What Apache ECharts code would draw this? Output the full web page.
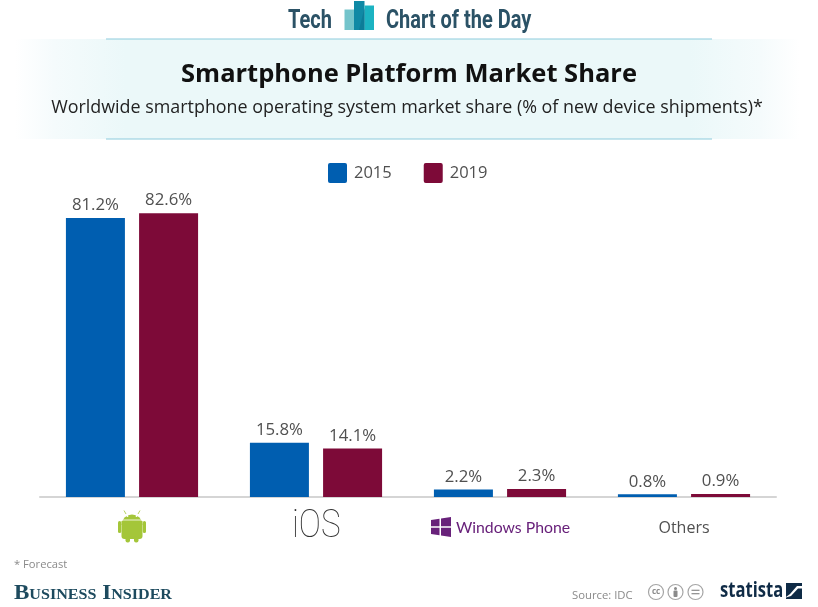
<!DOCTYPE html>
<html>
<head>
<meta charset="utf-8">
<style>
    html, body { margin: 0; padding: 0; background: #fff; }
    #chart { width: 818px; height: 607px; }
</style>
<script src="https://cdn.jsdelivr.net/npm/echarts@6/dist/echarts.min.js"></script>
</head>
<body>
<div id="chart"></div>
<script>
const categories = ['Android', 'iOS', 'Windows Phone', 'Others'];
const share2015 = [81.2, 15.8, 2.2, 0.8];
const share2019 = [82.6, 14.1, 2.3, 0.9];

const blue = '#005eb0';
const wine = '#7d0a38';
const font = '"Open Sans", sans-serif';

const chart = echarts.init(document.getElementById('chart'));

// bar series share everything but name, colour and values
const barSeries = (name, color, values) => ({
    name,
    type: 'bar',
    data: values,
    barWidth: 59,
    barGap: '24%',
    itemStyle: { color },
    label: {
        show: true,
        position: 'top',
        distance: 4,
        formatter: (p) => p.value.toFixed(1) + '%',
        fontFamily: font,
        fontSize: 16.8,
        color: '#505050',
    },
});

// header, footer and logos around the plot
const decorations = [
    {
        type: 'rect',
        shape: { x: 15, y: 39, width: 785, height: 100 },
        style: {
            fill: new echarts.graphic.LinearGradient(0, 0, 1, 0, [
                { offset: 0, color: '#ffffff' },
                { offset: 0.05, color: '#f5fbfc' },
                { offset: 0.14, color: '#ebf8f9' },
                { offset: 0.86, color: '#ebf8f9' },
                { offset: 0.95, color: '#f5fbfc' },
                { offset: 1, color: '#ffffff' },
            ]),
        },
    },
    { type: 'line', shape: { x1: 106, y1: 39, x2: 712, y2: 39 }, style: { stroke: '#8ccbdc', lineWidth: 1 } },
    { type: 'line', shape: { x1: 106, y1: 139, x2: 712, y2: 139 }, style: { stroke: '#8ccbdc', lineWidth: 1 } },

    { type: 'text', x: 288, y: 9, scaleX: 0.8, style: { text: 'Tech', font: 'bold 25px "Liberation Sans Narrow", Roboto', fill: '#2b5266' } },
    { type: 'text', x: 386, y: 9, scaleX: 0.8, style: { text: 'Chart of the Day', font: 'bold 25px "Liberation Sans Narrow", Roboto', fill: '#2b5266' } },
    { type: 'rect', shape: { x: 344.5, y: 9.5, width: 11, height: 20.5 }, style: { fill: '#74c4cb' } },
    { type: 'rect', shape: { x: 354, y: 1, width: 10.5, height: 29 }, style: { fill: '#1089a5' } },
    { type: 'rect', shape: { x: 364.5, y: 5.5, width: 9.5, height: 24.5 }, style: { fill: '#1cb3c2' } },
    { type: 'polygon', shape: { points: [[364.5, 8], [364.5, 30], [359, 30]] }, style: { fill: '#0c7c98' } },

    { type: 'text', x: 409, y: 62, style: { text: 'Smartphone Platform Market Share', align: 'center', font: 'bold 25.5px ' + font, fill: '#111' } },
    { type: 'text', x: 407, y: 99, style: { text: 'Worldwide smartphone operating system market share (% of new device shipments)*', align: 'center', font: '17.9px ' + font, fill: '#222' } },

    // android robot
    { type: 'circle', shape: { cx: 132, cy: 525, r: 10.5 }, style: { fill: '#a4c639' }, clipPath: { type: 'rect', shape: { x: 118, y: 510, width: 28, height: 15 } } },
    { type: 'rect', shape: { x: 121.5, y: 521, width: 21, height: 18, r: [0, 0, 3, 3] }, style: { fill: '#a4c639' } },
    { type: 'line', shape: { x1: 121.5, y1: 520, x2: 142.5, y2: 520 }, style: { stroke: '#fff', lineWidth: 0.8 } },
    { type: 'rect', shape: { x: 118, y: 521, width: 3.2, height: 12, r: 1.6 }, style: { fill: '#a4c639' } },
    { type: 'rect', shape: { x: 142.8, y: 521, width: 3.2, height: 12, r: 1.6 }, style: { fill: '#a4c639' } },
    { type: 'rect', shape: { x: 125.5, y: 536, width: 4.5, height: 6.5, r: 2 }, style: { fill: '#a4c639' } },
    { type: 'rect', shape: { x: 134, y: 536, width: 4.5, height: 6.5, r: 2 }, style: { fill: '#a4c639' } },
    { type: 'line', shape: { x1: 126, y1: 514, x2: 124, y2: 510.5 }, style: { stroke: '#a4c639', lineWidth: 0.8 } },
    { type: 'line', shape: { x1: 138, y1: 514, x2: 140, y2: 510.5 }, style: { stroke: '#a4c639', lineWidth: 0.8 } },
    { type: 'circle', shape: { cx: 127.5, cy: 516, r: 0.9 }, style: { fill: '#fff' } },
    { type: 'circle', shape: { cx: 136.5, cy: 516, r: 0.9 }, style: { fill: '#fff' } },

    // iOS wordmark is tall and thin, axis labels cannot squeeze text
    { type: 'text', x: 292, y: 527, scaleX: 0.85, style: { text: 'iOS', verticalAlign: 'middle', font: '100 39px Roboto, sans-serif', fill: '#333' } },

    // windows flag
    { type: 'polygon', shape: { points: [[431, 520], [439.5, 518.7], [439.5, 526.3], [431, 526.3]] }, style: { fill: '#68217a' } },
    { type: 'polygon', shape: { points: [[441, 518.5], [451, 517], [451, 526.3], [441, 526.3]] }, style: { fill: '#68217a' } },
    { type: 'polygon', shape: { points: [[431, 527.7], [439.5, 527.7], [439.5, 535.3], [431, 534]] }, style: { fill: '#68217a' } },
    { type: 'polygon', shape: { points: [[441, 527.7], [451, 527.7], [451, 537], [441, 535.5]] }, style: { fill: '#68217a' } },

    { type: 'text', x: 14, y: 559, style: { text: '* Forecast', font: '11.2px ' + font, fill: '#8a8a8a' } },
    { type: 'text', x: 14, y: 584, scaleX: 1.15, style: { text: 'Business Insider', font: 'small-caps bold 20px "Liberation Serif", serif', fill: '#1d4a5e' } },
    { type: 'text', x: 572, y: 590, style: { text: 'Source: IDC', font: '11.3px ' + font, fill: '#8a8a8a' } },

    // licence badges
    { type: 'circle', shape: { cx: 656, cy: 592, r: 7.5 }, style: { fill: 'none', stroke: '#a5a5a5', lineWidth: 1.2 } },
    { type: 'text', x: 656, y: 592, style: { text: 'cc', align: 'center', verticalAlign: 'middle', font: 'bold 8px ' + font, fill: '#8a8a8a' } },
    { type: 'circle', shape: { cx: 675.5, cy: 592, r: 7.5 }, style: { fill: 'none', stroke: '#a5a5a5', lineWidth: 1.2 } },
    { type: 'circle', shape: { cx: 675.5, cy: 588.5, r: 1.5 }, style: { fill: '#8a8a8a' } },
    { type: 'rect', shape: { x: 673.5, y: 590.5, width: 4, height: 6.5, r: 1 }, style: { fill: '#8a8a8a' } },
    { type: 'circle', shape: { cx: 695.5, cy: 592, r: 7.5 }, style: { fill: 'none', stroke: '#a5a5a5', lineWidth: 1.2 } },
    { type: 'line', shape: { x1: 691.5, y1: 590.3, x2: 699.5, y2: 590.3 }, style: { stroke: '#8a8a8a', lineWidth: 1.2 } },
    { type: 'line', shape: { x1: 691.5, y1: 593.7, x2: 699.5, y2: 593.7 }, style: { stroke: '#8a8a8a', lineWidth: 1.2 } },

    { type: 'text', x: 720, y: 581, scaleX: 0.79, style: { text: 'statista', font: 'bold 21px "Open Sans", sans-serif', fill: '#0f2b46' } },
    { type: 'polygon', shape: { points: [[786, 583], [802, 583], [802, 586], [797, 586], [790, 594], [786, 597]] }, style: { fill: '#0f2b46' } },
    { type: 'polygon', shape: { points: [[802, 588.5], [798, 588.5], [791, 596], [786, 597.5], [786, 599], [802, 599]] }, style: { fill: '#0f2b46' } },
];

chart.setOption({
    animation: false,
    textStyle: { fontFamily: font },
    legend: {
        top: 158,
        left: 323,
        itemWidth: 19,
        itemHeight: 20,
        itemGap: 32,
        icon: 'path://M2,0H17a2,2 0 0 1 2,2V18a2,2 0 0 1 -2,2H2a2,2 0 0 1 -2,-2V2a2,2 0 0 1 2,-2z',
        textStyle: { fontFamily: font, fontSize: 16.5, color: '#505050', padding: [0, 0, 0, 2] },
        data: ['2015', '2019'],
    },
    grid: { left: 40, right: 42, top: 153.4, bottom: 110 },
    xAxis: {
        type: 'category',
        data: categories,
        axisTick: { show: false },
        axisLine: { lineStyle: { color: '#d5d5d5', width: 2 } },
        axisLabel: {
            interval: 0,
            margin: 23,
            formatter: (name) => {
                if (name === 'Android' || name === 'iOS') return '';
                if (name === 'Windows Phone') return '{win|Windows Phone}';
                return '{other|' + name + '}';
            },
            rich: {
                win: { fontFamily: 'Lato, sans-serif', fontSize: 15.8, color: '#68217a', padding: [0, 0, 0, 26] },
                other: { fontFamily: font, fontSize: 16, color: '#505050' },
            },
        },
    },
    yAxis: { type: 'value', min: 0, max: 100, show: false },
    series: [
        barSeries('2015', blue, share2015),
        barSeries('2019', wine, share2019),
    ],
    graphic: { elements: decorations },
});
</script>
</body>
</html>
